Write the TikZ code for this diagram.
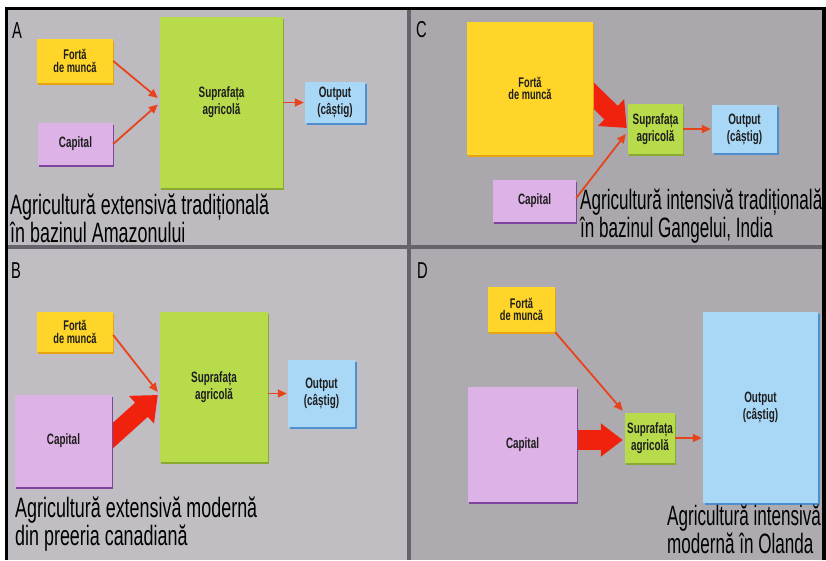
\documentclass[tikz,border=0pt]{standalone}
\usepackage{fontspec}
\setmainfont{Liberation Sans}
\newfontfamily\capfont[FakeStretch=0.64]{Liberation Sans}
\newfontfamily\capfontn[FakeStretch=0.61]{Liberation Sans}
\newfontfamily\boxfont[FakeStretch=0.66]{Liberation Sans Bold}
\usetikzlibrary{arrows.meta,shadows}
\definecolor{panelA}{HTML}{BDBAC0}
\definecolor{panelB}{HTML}{C0BEC3}
\definecolor{panelC}{HTML}{AAA8AC}
\definecolor{panelD}{HTML}{ADABAF}
\definecolor{divc}{HTML}{66646A}
\definecolor{yellowc}{HTML}{FFD52A}
\definecolor{yellowd}{HTML}{E8A410}
\definecolor{greenc}{HTML}{B8DB4C}
\definecolor{greend}{HTML}{88AA30}
\definecolor{purplec}{HTML}{DDB2E6}
\definecolor{purpled}{HTML}{7E44A0}
\definecolor{bluec}{HTML}{A9D7F6}
\definecolor{blued}{HTML}{4E8FD0}
\definecolor{arrc}{HTML}{E8441C}
\definecolor{bigc}{HTML}{F0220E}
\definecolor{txtc}{HTML}{1E1E1E}
\pgfdeclarelayer{bg}
\pgfdeclarelayer{arrlayer}
\pgfsetlayers{bg,arrlayer,main}
\tikzset{
  box/.style={rectangle, inner sep=1pt, align=center, text=txtc,
    font=\boxfont\fontsize{15}{17}\selectfont},
  ybox/.style={box, fill=yellowc, font=\boxfont\fontsize{14}{12.5}\selectfont,
    general shadow={fill=yellowd, shadow xshift=1pt, shadow yshift=-2pt}},
  gbox/.style={box, fill=greenc, general shadow={fill=greend, shadow xshift=1pt, shadow yshift=-2pt}},
  pbox/.style={box, fill=purplec, general shadow={fill=purpled, shadow xshift=1pt, shadow yshift=-2pt}},
  bbox/.style={box, fill=bluec, general shadow={fill=blued, shadow xshift=1.5pt, shadow yshift=-2pt}},
  thinarr/.style={draw=arrc, line width=1.8pt, -{Triangle[length=9pt,width=8pt]}},
  bigarr/.style={draw=bigc, line width=19pt, -{Triangle[length=22pt,width=36pt]}},
  caption/.style={anchor=base west, inner sep=0pt, align=left, text=black,
    font=\capfont\fontsize{28}{25}\selectfont},
  captionn/.style={caption, font=\capfontn\fontsize{28}{23}\selectfont},
  letter/.style={anchor=base west, inner sep=0pt, text=black,
    font=\capfont\fontsize{23}{23}\selectfont},
}
\begin{document}
\begin{tikzpicture}[x=1pt,y=-1pt]
\useasboundingbox (0,0) rectangle (826,560);
\begin{pgfonlayer}{bg}
\fill[white] (0,0) rectangle (826,560);
\fill[panelA] (8,10) rectangle (408,246);
\fill[panelB] (8,248) rectangle (408,560);
\fill[panelC] (410,10) rectangle (822,246);
\fill[panelD] (410,248) rectangle (822,560);
\fill[divc] (407,10) rectangle (411,560);
\fill[divc] (8,245) rectangle (822,249);
\fill[black] (5,7) rectangle (826,10);
\fill[black] (5,7) rectangle (8,560);
\fill[black] (822,7) rectangle (826,560);
\end{pgfonlayer}

% ---------- Panel A ----------
\node[letter] (lA) at (12,38) {A};
\node[ybox, minimum width=76, minimum height=44] (fA) at (75,61) {Fortă\\de muncă};
\node[pbox, minimum width=75, minimum height=42] (cA) at (75.5,144) {Capital};
\node[gbox, minimum width=123, minimum height=171] (sA) at (221.5,102.5) {Suprafața\\agricolă};
\node[bbox, minimum width=60, minimum height=41] (oA) at (335,102.5) {Output\\(câștig)};
\draw[thinarr] (fA.east) -- ([xshift=-2pt,yshift=4.5pt]sA.west);
\draw[thinarr] (cA.east) -- ([xshift=-2pt,yshift=-2pt]sA.west);
\draw[thinarr] (sA.east) -- ([xshift=-1pt]oA.west);
\node[caption] (tA) at (10,242) {Agricultură extensivă tradițională\\în bazinul Amazonului};

% ---------- Panel C ----------
\node[letter] (lC) at (416,37) {C};
\node[ybox, minimum width=126, minimum height=133] (fC) at (530,88.5) {Fortă\\de muncă};
\node[gbox, minimum width=55, minimum height=50] (sC) at (655.5,129) {Suprafața\\agricolă};
\node[bbox, minimum width=65, minimum height=48] (oC) at (744.5,129) {Output\\(câștig)};
\node[pbox, minimum width=83, minimum height=42] (cC) at (534.5,201) {Capital};
\begin{pgfonlayer}{arrlayer}
\draw[bigarr] ([xshift=-14pt,yshift=7pt]fC.east) -- ([xshift=-1pt,yshift=1pt]sC.west);
\end{pgfonlayer}
\draw[thinarr] ([yshift=3pt]cC.east) -- ([xshift=-2pt,yshift=-5pt]sC.west);
\draw[thinarr] (sC.east) -- ([xshift=-1pt]oC.west);
\node[captionn] (tC) at (580,237) {Agricultură intensivă tradițională\\în bazinul Gangelui, India};

% ---------- Panel B ----------
\node[letter] (lB) at (11,278) {B};
\node[ybox, minimum width=76, minimum height=40] (fB) at (75,332) {Fortă\\de muncă};
\node[pbox, minimum width=97, minimum height=92] (cB) at (63.5,441) {Capital};
\node[gbox, minimum width=108, minimum height=150] (sB) at (214,387) {Suprafața\\agricolă};
\node[bbox, minimum width=67, minimum height=67] (oB) at (321.5,393.5) {Output\\(câștig)};
\begin{pgfonlayer}{arrlayer}
\draw[bigarr] ([xshift=-12pt,yshift=-6pt]cB.east) -- ([xshift=-2pt,yshift=-8pt]sB.west);
\end{pgfonlayer}
\draw[thinarr] ([yshift=-3pt]fB.east) -- ([xshift=-2pt,yshift=-5pt]sB.west);
\draw[thinarr] (sB.east |- oB.west) -- ([xshift=-1pt]oB.west);
\node[caption] (tB) at (15,545) {Agricultură extensivă modernă\\din preeria canadiană};

% ---------- Panel D ----------
\node[letter] (lD) at (417,278) {D};
\node[ybox, minimum width=67, minimum height=45] (fD) at (521.5,309.5) {Fortă\\de muncă};
\node[pbox, minimum width=109, minimum height=115] (cD) at (522.5,444.5) {Capital};
\node[gbox, minimum width=50, minimum height=50] (sD) at (650,438) {Suprafața\\agricolă};
\node[bbox, minimum width=115, minimum height=191] (oD) at (760.5,407.5) {Output\\(câștig)};
\begin{pgfonlayer}{arrlayer}
\draw[bigarr, line width=20pt, -{Triangle[length=22pt,width=32pt]}] ([xshift=-12pt,yshift=4.5pt]cD.east) -- ([xshift=-2pt,yshift=-2pt]sD.west);
\end{pgfonlayer}
\draw[thinarr] (fD.south east) -- ([xshift=-2pt,yshift=2pt]sD.north west);
\draw[thinarr] (sD.east) -- ([xshift=-1pt]sD.east -| oD.west);
\node[captionn] (tD) at (667,553) {Agricultură intensivă\\modernă în Olanda};
\end{tikzpicture}
\end{document}
